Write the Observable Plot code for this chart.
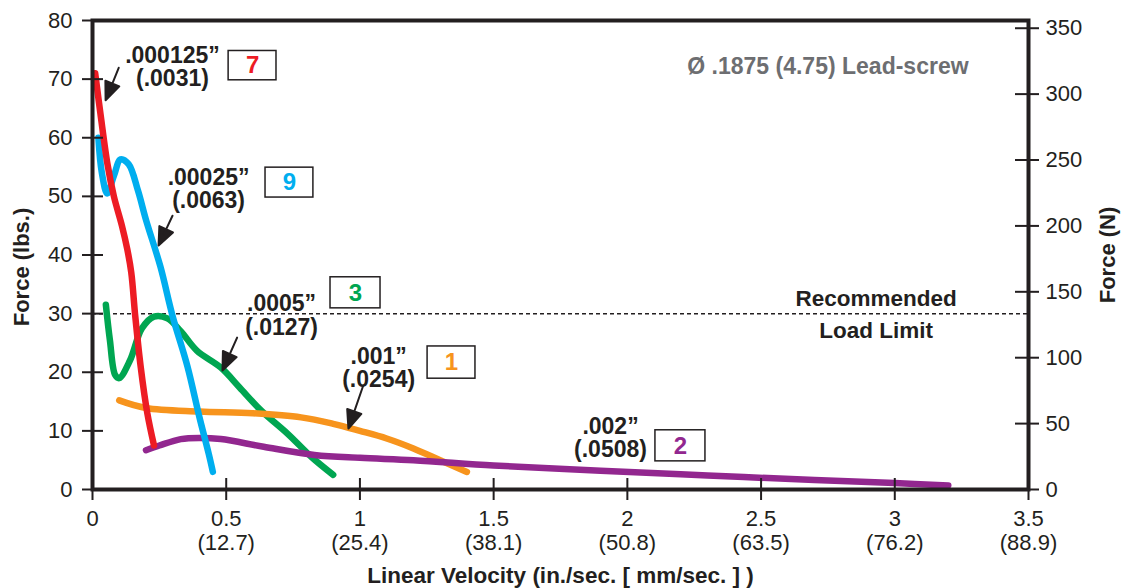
<!DOCTYPE html>
<html><head><meta charset="utf-8">
<script src="https://cdn.jsdelivr.net/npm/d3@7"></script>
<script src="https://cdn.jsdelivr.net/npm/@observablehq/plot@0.6"></script>
<style>body{margin:0;background:#fff}</style>
</head><body><div id="chart"></div>
<script>
// Axis ticks
const xTicks = [0, 0.5, 1, 1.5, 2, 2.5, 3, 3.5];
const xTickMM = ["", "(12.7)", "(25.4)", "(38.1)", "(50.8)", "(63.5)", "(76.2)", "(88.9)"];
const yTicksLbs = [0, 10, 20, 30, 40, 50, 60, 70, 80];
const yTicksN = [0, 50, 100, 150, 200, 250, 300, 350];
const LBF_TO_N = 4.44822;
const loadLimit = 30;

// Series (x = in/sec, y = lbs)
const s7 = [[0.01,71],[0.03,64],[0.056,55.5],[0.08,50],[0.11,45],[0.13,41],[0.145,37],[0.16,29.5],[0.18,21],[0.205,13],[0.23,7.5]];
const s9 = [[0.022,60],[0.035,54],[0.055,50.5],[0.08,53.5],[0.105,56.3],[0.135,55.5],[0.17,51],[0.2,46],[0.254,38],[0.3,29.5],[0.355,21],[0.4,12.3],[0.435,6],[0.45,3]];
const s3 = [[0.05,31.5],[0.065,25.5],[0.085,19.5],[0.1,19],[0.14,22],[0.185,27.5],[0.23,29.5],[0.28,29.2],[0.33,27],[0.39,23.7],[0.48,20.8],[0.55,17.4],[0.63,13.5],[0.73,9.5],[0.82,5.5],[0.9,2.5]];
const s1 = [[0.1,15.2],[0.2,13.9],[0.4,13.3],[0.6,13],[0.78,12.3],[0.9,11.2],[1.0,10],[1.1,8.7],[1.2,7],[1.3,5],[1.4,3]];
const s2 = [[0.2,6.7],[0.25,7.5],[0.33,8.6],[0.4,8.8],[0.48,8.6],[0.64,7.3],[0.83,5.9],[1.0,5.4],[1.2,5.0],[1.5,4.1],[1.9,3.2],[2.3,2.4],[2.7,1.6],[3.0,1.1],[3.2,0.7]];

const seriesNames = ["3", "1", "2", "9", "7"];
const seriesData = [s3, s1, s2, s9, s7];
const seriesColors = ["#00a651", "#f7941d", "#92278f", "#00aeef", "#ed1c24"];

// Annotations
const annoText = [".000125”\n(.0031)", ".00025”\n(.0063)", ".0005”\n(.0127)", ".001”\n(.0254)", ".002”\n(.0508)"];
const annoX = [0.299, 0.434, 0.707, 1.07, 1.937];
const annoY = [72.1, 51.3, 29.7, 20.7, 8.8];

const boxLabels = ["7", "9", "3", "1", "2"];
const boxColors = ["#ed1c24", "#00aeef", "#00a651", "#f7941d", "#92278f"];
const boxX1 = [0.509, 0.647, 0.89, 1.253, 2.105];
const boxX2 = [0.688, 0.826, 1.077, 1.432, 2.292];
const boxY1 = [69.8, 49.8, 30.9, 18.9, 4.8];
const boxY2 = [74.8, 54.9, 36.2, 24.4, 10.1];

const arrowTipX = [0.049, 0.247, 0.486, 0.957];
const arrowTipY = [66.4, 41.6, 20.3, 10.4];
const arrowAngle = [202, 205, 204, 199];
const arrowLen = [35, 33, 36, 45];

const titleText = "Ø .1875 (4.75) Lead-screw";
const limitText = ["Recommended", "Load Limit"];
const limitY = [32.6, 27.1];

// Build tables
const lineRows = seriesData.flatMap((s, k) => s.map(([x, y]) => ({series: seriesNames[k], x, y})));
const annos = annoText.map((t, i) => ({t, x: annoX[i], y: annoY[i]}));
const boxes = boxLabels.map((t, i) => ({t, c: boxColors[i], x1: boxX1[i], x2: boxX2[i], y1: boxY1[i], y2: boxY2[i]}));
const arrows = arrowTipX.map((x, i) => ({x, y: arrowTipY[i], a: arrowAngle[i], l: arrowLen[i]}));
const limits = limitText.map((t, i) => ({t, y: limitY[i]}));

const ink = "#231f20";
const font = "Liberation Sans, Arial, Helvetica, sans-serif";

const filledArrow = {
  draw(context, l) {
    const h = 18, w = 7.5;
    context.moveTo(0, 0);
    context.lineTo(0, -l + h * 0.7);
    context.moveTo(0, -l);
    context.lineTo(-w, -l + h);
    context.lineTo(w, -l + h);
    context.closePath();
  }
};

const chart = Plot.plot({
  width: 1123,
  height: 588,
  marginLeft: 92,
  marginRight: 95,
  marginTop: 20,
  marginBottom: 99,
  style: {fontFamily: font, background: "#fff", color: ink},
  x: {domain: [0, 3.5]},
  y: {domain: [0, 80]},
  length: {type: "identity"},
  marks: [
    Plot.ruleY([loadLimit], {stroke: ink, strokeWidth: 1.5, strokeDasharray: "4,3"}),
    ...seriesNames.map((n, k) => Plot.line(lineRows.filter(d => d.series === n), {
      x: "x", y: "y", stroke: seriesColors[k], strokeWidth: 6.5, curve: "catmull-rom",
      strokeLinecap: "round", strokeLinejoin: "round"
    })),
    Plot.frame({stroke: ink, strokeWidth: 4}),
    // ticks (crossing)
    Plot.axisX(xTicks, {anchor: "bottom", tickSize: 22, dy: -11, tickFormat: () => "", stroke: ink, strokeWidth: 2, label: null}),
    Plot.axisX(xTicks, {anchor: "bottom", tickSize: 0, tickPadding: 19, fontSize: 22, lineHeight: 1.1,
      tickFormat: (d) => { const i = xTicks.indexOf(d); return xTickMM[i] ? `${d}\n${xTickMM[i]}` : `${d}`; },
      fill: ink, label: null}),
    Plot.axisY(yTicksLbs, {anchor: "left", tickSize: 21, dx: 11, tickFormat: () => "", stroke: ink, strokeWidth: 2, label: null}),
    Plot.axisY(yTicksLbs, {anchor: "left", tickSize: 0, tickPadding: 20, fontSize: 22, fill: ink, label: null}),
    Plot.axisY(yTicksN.map(n => n / LBF_TO_N), {anchor: "right", tickSize: 24, dx: -14, tickFormat: () => "", stroke: ink, strokeWidth: 2, label: null}),
    Plot.axisY(yTicksN.map(n => n / LBF_TO_N), {anchor: "right", tickSize: 0, tickPadding: 17, fontSize: 22, fill: ink,
      tickFormat: (d) => String(Math.round(d * LBF_TO_N)), label: null}),
    // axis titles
    Plot.text(["Force (lbs.)"], {frameAnchor: "left", textAnchor: "middle", lineAnchor: "middle", dx: -71, dy: 12, rotate: -90, fontSize: 22, fontWeight: "bold", fill: ink}),
    Plot.text(["Force (N)"], {frameAnchor: "right", textAnchor: "middle", lineAnchor: "middle", dx: 79, dy: 0, rotate: -90, fontSize: 22, fontWeight: "bold", fill: ink}),
    Plot.text(["Linear Velocity (in./sec. [ mm/sec. ] )"], {frameAnchor: "bottom", textAnchor: "middle", lineAnchor: "middle", dy: 86, dx: 0, fontSize: 22.5, fontWeight: "bold", fill: ink}),
    // title & limit label
    Plot.text([titleText], {x: 2.75, y: 72.1, fontSize: 23, fontWeight: "bold", fill: "#6d6e71"}),
    Plot.text(limits, {x: 2.93, y: "y", text: "t", fontSize: 22.5, fontWeight: "bold", fill: ink}),
    // annotations
    Plot.text(annos, {x: "x", y: "y", text: "t", fontSize: 23, fontWeight: "bold", lineHeight: 1.02, fill: ink}),
    Plot.rect(boxes, {x1: "x1", x2: "x2", y1: "y1", y2: "y2", fill: "#fff", stroke: ink, strokeWidth: 1.5}),
    Plot.text(boxes, {x: d => (d.x1 + d.x2) / 2, y: d => (d.y1 + d.y2) / 2, text: "t", fill: "c", fontSize: 24, fontWeight: "bold"}),
    Plot.vector(arrows, {x: "x", y: "y", rotate: "a", length: "l", anchor: "end", shape: filledArrow, stroke: ink, fill: ink, strokeWidth: 2})
  ]
});
document.getElementById("chart").appendChild(chart);
</script>
</body></html>
